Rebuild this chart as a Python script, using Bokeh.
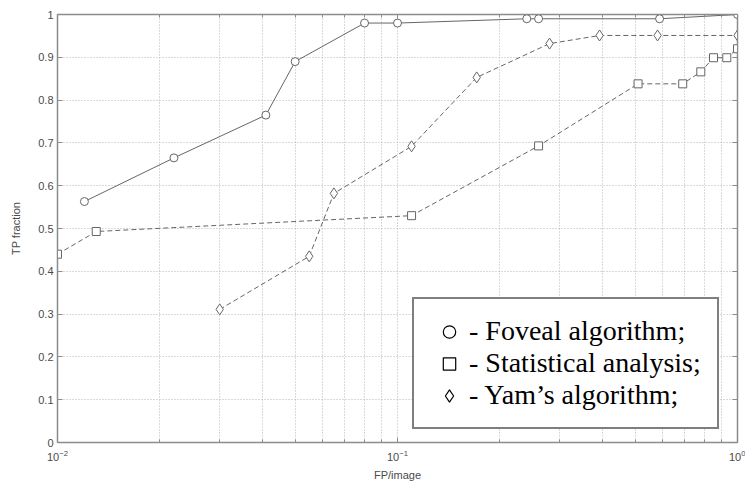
from bokeh.plotting import figure
from bokeh.models import (Legend, LegendItem, LinearAxis, LogAxis, FixedTicker,
                          NumeralTickFormatter, LogTickFormatter, CustomLabelingPolicy)
from bokeh.embed import file_html
from bokeh.resources import INLINE

# ---- data ----
foveal_x = [0.012, 0.022, 0.041, 0.050, 0.080, 0.100, 0.240, 0.260, 0.590, 1.000]
foveal_y = [0.563, 0.665, 0.765, 0.890, 0.980, 0.980, 0.990, 0.990, 0.990, 1.000]

stat_x = [0.010, 0.013, 0.110, 0.260, 0.510, 0.690, 0.780, 0.850, 0.930, 1.000]
stat_y = [0.440, 0.493, 0.530, 0.693, 0.838, 0.838, 0.866, 0.899, 0.899, 0.920]

yam_x = [0.030, 0.055, 0.065, 0.110, 0.171, 0.280, 0.393, 0.582, 1.000]
yam_y = [0.311, 0.435, 0.582, 0.692, 0.853, 0.932, 0.951, 0.951, 0.951]

y_ticks = [0, 0.1, 0.2, 0.3, 0.4, 0.5, 0.6, 0.7, 0.8, 0.9, 1]
x_major = [0.01, 0.1, 1]
x_minor = [0.02, 0.03, 0.04, 0.05, 0.06, 0.07, 0.08, 0.09,
           0.2, 0.3, 0.4, 0.5, 0.6, 0.7, 0.8, 0.9]
legend_labels = ["- Foveal algorithm;", "- Statistical analysis;", "- Yam\u2019s algorithm;"]

LINE = "#666666"
FRAME = "#8c8c8c"
GRID = "#b5b5b5"
TXT = "#4a4a4a"

p = figure(width=745, height=483, x_axis_type="log", x_range=(0.01, 1), y_range=(0, 1),
           output_backend="svg", toolbar_location=None,
           min_border_left=57, min_border_right=8, min_border_top=14, min_border_bottom=35)
p.background_fill_color = "white"
p.border_fill_color = "white"
p.outline_line_color = FRAME
p.outline_line_width = 1.5

xt = FixedTicker(ticks=x_major, minor_ticks=x_minor)
yt = FixedTicker(ticks=y_ticks)

p.xaxis.ticker = xt
p.xaxis.formatter = LogTickFormatter()
p.yaxis.ticker = yt
p.yaxis.formatter = NumeralTickFormatter(format="0.[0]")

# grid
p.xgrid.ticker = xt
p.xgrid.grid_line_color = GRID
p.xgrid.grid_line_dash = "1 2"
p.xgrid.minor_grid_line_color = GRID
p.xgrid.minor_grid_line_dash = "1 2"
p.ygrid.ticker = yt
p.ygrid.grid_line_color = GRID
p.ygrid.grid_line_dash = "1 2"

for ax in [p.xaxis[0], p.yaxis[0]]:
    ax.axis_line_color = FRAME
    ax.major_tick_line_color = FRAME
    ax.minor_tick_line_color = FRAME
    ax.major_tick_in = 5
    ax.major_tick_out = 0
    ax.minor_tick_in = 3
    ax.minor_tick_out = 0
    ax.major_label_text_font = "Liberation Sans"
    ax.major_label_text_font_size = "11px"
    ax.major_label_text_color = TXT
    ax.major_label_standoff = 4
    ax.axis_label_text_font = "Liberation Sans"
    ax.axis_label_text_font_size = "11px"
    ax.axis_label_text_font_style = "normal"
    ax.axis_label_text_color = TXT
p.xaxis.major_label_standoff = 7
p.xaxis.axis_label_standoff = 5
p.yaxis.axis_label_standoff = 13
p.yaxis.minor_tick_line_color = None
p.xaxis.axis_label = "FP/image"
p.yaxis.axis_label = "TP fraction"

# mirrored axes on top and right (tick marks only, labels suppressed by policy)
HIDE_CODE = "for (let i = 0; i < indices.size; i++) { indices.unset(i) }; return indices"
top = LogAxis(ticker=xt, major_label_policy=CustomLabelingPolicy(code=HIDE_CODE))
right = LinearAxis(ticker=yt, major_label_policy=CustomLabelingPolicy(code=HIDE_CODE))
for ax in [top, right]:
    ax.axis_line_color = FRAME
    ax.major_tick_line_color = FRAME
    ax.minor_tick_line_color = FRAME
    ax.major_tick_in = 5
    ax.major_tick_out = 0
    ax.minor_tick_in = 3
    ax.minor_tick_out = 0
    ax.major_label_text_font_size = "1px"
    ax.major_label_standoff = 0
right.minor_tick_line_color = None
p.add_layout(top, "above")
p.add_layout(right, "right")

# series
p.line(foveal_x, foveal_y, line_color=LINE, line_width=1)
p.scatter(foveal_x, foveal_y, marker="circle", size=8, line_color=LINE, fill_color="white")

p.line(stat_x, stat_y, line_color=LINE, line_width=1, line_dash="5 3")
p.scatter(stat_x, stat_y, marker="square", size=8, line_color=LINE, fill_color="white")

p.line(yam_x, yam_y, line_color=LINE, line_width=1, line_dash="5 3")
p.scatter(yam_x, yam_y, marker="diamond", size=11, line_color=LINE, fill_color="white")

# legend glyph renderers (hidden in the plot, shown only in the legend)
g1 = p.scatter(foveal_x, foveal_y, marker="circle", line_color="black", fill_color="white", line_width=1.2, visible=False)
g2 = p.scatter(stat_x, stat_y, marker="square", line_color="black", fill_color="white", line_width=1.2, visible=False)
g3 = p.scatter(yam_x, yam_y, marker="diamond", line_color="black", fill_color="white", line_width=1.2, visible=False)

legend = Legend(items=[LegendItem(label=legend_labels[0], renderers=[g1]),
                       LegendItem(label=legend_labels[1], renderers=[g2]),
                       LegendItem(label=legend_labels[2], renderers=[g3])],
                location=(355, 13), orientation="vertical")
legend.label_text_font = "Liberation Serif"
legend.label_text_font_size = "28px"
legend.label_text_color = "black"
legend.glyph_width = 38
legend.glyph_height = 31
legend.label_height = 28
legend.label_standoff = 1
legend.spacing = 0
legend.padding = 16
legend.margin = 0
legend.inactive_fill_alpha = 0
legend.border_line_color = "black"
legend.border_line_width = 2
legend.background_fill_color = "white"
legend.background_fill_alpha = 1
p.add_layout(legend, "center")

open("out.html", "w").write(file_html(p, INLINE))
